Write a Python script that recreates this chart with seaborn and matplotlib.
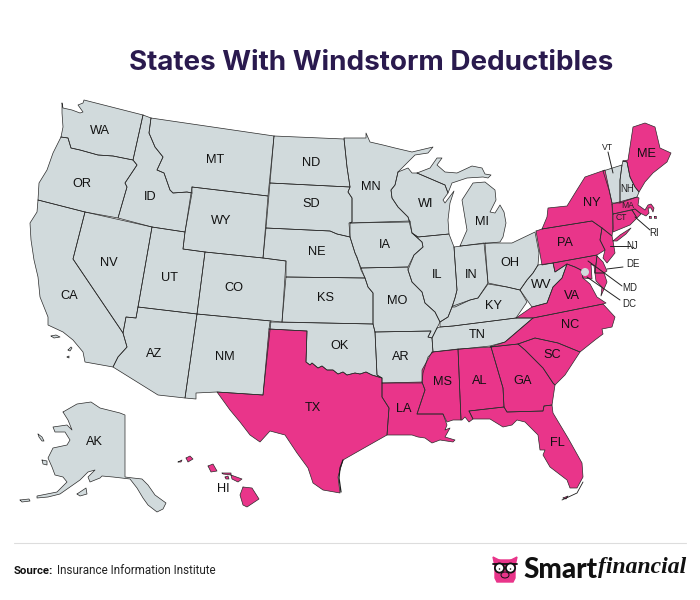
""" States with windstorm deductibles map """
import numpy as np
import pandas
import seaborn as sns
from matplotlib import pyplot as plt
from matplotlib.patches import Circle, Ellipse

# Shared jagged border, Texas / Oklahoma, west to east
RED_RIVER = [(306,362),(310,365),(312,363),(318,368),(322,366),(327,370),(333,370),(338,374),(343,372),(347,375),(355,373),(360,374),(366,372),(372,375),(382,378)]

# State outlines, picture coordinates
WA = [(62,103),(63,108),(72,110),(80,113),(83,112),(78,105),(83,103),(84,100),(143,115),(133,160),(113,156),(98,155),(80,150),(71,148),(68,138),(61,137),(63,127),(62,113)]
OR = [(61,137),(68,138),(71,148),(80,150),(98,155),(113,156),(133,160),(137,165),(125,183),(127,187),(118,218),(85,212),(38,200),(39,183),(47,170),(53,153)]
CA = [(38,200),(85,212),(73,259),(123,333),(127,347),(118,357),(113,367),(85,362),(83,352),(73,340),(63,332),(48,325),(48,317),(40,297),(38,277),(34,260),(31,240),(30,223),(37,212)]
NV = [(85,212),(152,227),(138,307),(136,318),(126,317),(123,333),(73,259)]
ID = [(143,115),(151,118),(149,133),(155,147),(163,157),(157,170),(164,173),(170,190),(173,193),(187,192),(192,193),(185,232),(152,227),(118,218),(127,187),(125,183),(137,165),(133,160)]
MT = [(151,118),(274,136),(268,196),(192,187),(192,193),(187,192),(173,193),(170,190),(164,173),(157,170),(163,157),(155,147),(149,133)]
WY = [(192,187),(268,196),(263,258),(205,252),(183,249),(185,232)]
UT = [(152,227),(185,232),(183,249),(205,252),(197,314),(138,307)]
CO = [(205,252),(263,258),(286,261),(282,322),(197,314)]
AZ = [(138,307),(197,314),(185,398),(158,395),(113,367),(118,357),(127,347),(123,333),(126,317),(136,318)]
NM = [(197,314),(271,321),(263,395),(217,392),(196,393),(196,399),(185,398)]
TX = [(269,329),(307,331)] + RED_RIVER + [(382,397),(389,408),(387,435),(357,452),(343,460),(338,477),(340,493),(323,490),(313,483),(308,468),(297,453),(285,435),(270,431),(260,442),(250,435),(240,422),(230,410),(217,392),(263,395)]
OK = [(270,322),(373,324),(375,332),(377,375)] + RED_RIVER[::-1] + [(307,331),(269,329)]
KS = [(286,277),(365,278),(368,287),(373,293),(373,324),(282,322)]
NE = [(266,228),(330,231),(337,234),(350,237),(355,253),(357,257),(361,270),(365,278),(286,277),(286,261),(263,258)]
SD = [(270,183),(350,187),(348,192),(352,198),(352,222),(349,223),(350,237),(337,234),(330,231),(266,228)]
ND = [(274,136),(344,139),(347,167),(350,187),(270,183)]
MN = [(344,138),(366,138),(366,133),(370,142),(383,145),(395,148),(412,152),(433,147),(428,153),(415,155),(407,163),(398,172),(395,185),(391,190),(392,198),(398,207),(408,217),(410,222),(350,223),(352,222),(352,198),(348,192),(350,187),(347,167)]
IA = [(350,223),(410,221),(412,233),(422,242),(423,247),(414,255),(408,267),(361,268),(355,253),(350,237)]
WI = [(398,172),(408,168),(412,173),(417,173),(445,185),(448,193),(443,200),(445,203),(454,191),(450,203),(448,220),(449,234),(418,237),(412,233),(408,217),(398,207),(392,198),(391,190),(395,185)]
IL = [(418,237),(449,234),(454,247),(457,290),(455,298),(452,307),(448,317),(440,322),(435,312),(425,303),(422,292),(412,282),(408,270),(414,255),(423,247),(422,242),(412,233)]
MO = [(361,268),(408,267),(408,270),(412,282),(422,292),(425,303),(435,312),(440,322),(437,328),(432,338),(428,337),(431,331),(375,332),(373,324),(373,293),(368,287),(365,278)]
AR = [(375,332),(431,331),(428,337),(432,338),(433,352),(428,357),(423,373),(422,383),(382,383),(382,378),(377,375)]
LA = [(382,383),(422,382),(425,390),(417,414),(443,414),(447,425),(445,430),(450,428),(445,437),(455,440),(453,442),(440,440),(432,443),(425,438),(418,437),(412,435),(387,435),(389,408),(382,397)]
MS = [(432,352),(458,349),(461,420),(453,420),(447,422),(443,414),(417,414),(425,390),(422,382),(422,370)]
AL = [(458,349),(491,347),(503,388),(504,407),(469,411),(473,419),(469,422),(465,417),(462,420),(461,420)]
GA = [(491,347),(518,344),(525,350),(543,368),(553,383),(555,385),(552,405),(544,406),(543,411),(507,412),(504,407),(503,388)]
FL = [(469,411),(504,407),(507,412),(543,411),(544,406),(552,405),(553,413),(568,438),(582,463),(583,477),(577,488),(570,488),(567,480),(550,467),(543,455),(545,450),(540,450),(538,435),(525,422),(517,420),(512,425),(503,427),(490,419),(473,419)]
SC = [(518,344),(535,338),(558,343),(580,352),(565,375),(555,385),(553,383),(543,368),(525,350)]
NC = [(490,347),(505,342),(533,318),(603,304),(615,317),(612,327),(602,329),(603,334),(595,340),(580,352),(558,343),(535,338),(518,344)]
VA = [(516,318),(532,307),(547,303),(553,287),(562,278),(567,264),(575,267),(581,270),(583,278),(590,284),(597,297),(606,303),(603,304),(533,318)]
WV = [(538,265),(553,263),(555,272),(567,264),(562,278),(553,287),(547,303),(532,307),(520,290),(527,280),(533,273)]
KY = [(453,306),(470,300),(478,298),(488,284),(507,287),(520,290),(527,302),(516,318),(453,326),(440,327),(440,322),(448,317),(452,307)]
TN = [(437,328),(440,327),(453,326),(516,318),(533,318),(505,342),(490,346),(433,352),(432,338)]
IN = [(454,247),(484,243),(488,283),(478,298),(470,300),(455,307),(452,307),(455,298),(457,290)]
OH = [(485,243),(512,243),(535,232),(539,253),(538,265),(533,273),(527,280),(520,290),(507,287),(488,283)]
PA = [(536,231),(542,229),(592,221),(602,228),(600,240),(605,250),(597,255),(542,265)]
NY = [(542,229),(547,217),(548,208),(567,206),(575,193),(585,177),(605,170),(612,203),(613,228),(612,236),(602,228),(592,221)]
LI = [(613,241),(620,235),(631,228),(626,234),(617,241)]
NJ = [(602,228),(612,236),(613,241),(615,253),(607,263),(603,258),(605,250),(600,240)]
DE = [(597,256),(603,262),(607,271),(604,273),(595,273)]
MD = [(553,263),(597,255),(595,273),(604,273),(607,282),(601,296),(602,287),(596,281),(594,266),(591,264),(592,279),(583,278),(581,270),(575,267),(567,264),(555,272)]
VT = [(603,171),(622,165),(620,180),(620,203),(612,203),(609,190)]
NH = [(623,161),(627,162),(630,177),(635,187),(639,192),(637,197),(620,203),(620,180),(622,165)]
ME = [(623,161),(628,160),(633,127),(645,123),(655,127),(660,148),(671,153),(667,162),(653,173),(645,182),(639,192),(635,187),(630,177),(627,162)]
MA = [(612,204),(637,197),(639,198),(638,205),(645,210),(648,205),(651,204),(654,208),(653,212),(651,208),(648,208),(649,213),(646,216),(640,213),(635,209),(613,214)]
CT = [(613,214),(632,210),(637,218),(630,225),(613,232)]
RI = [(632,210),(635,209),(641,214),(637,218)]
MI_UP = [(417,173),(430,168),(437,158),(442,158),(437,165),(445,172),(457,173),(472,166),(482,168),(485,174),(491,175),(488,178),(483,177),(467,178),(452,183),(448,193),(445,185)]
MI_LP = [(460,246),(467,230),(462,200),(473,183),(485,182),(495,190),(496,200),(490,212),(495,213),(500,205),(504,212),(506,223),(503,237),(500,242)]
AK = [(63,412),(77,404),(91,402),(100,408),(120,413),(125,415),(125,477),(133,478),(142,479),(148,485),(155,495),(166,503),(163,509),(157,512),(148,505),(143,498),(137,488),(130,479),(113,477),(102,476),(100,478),(90,482),(88,477),(95,470),(88,472),(80,480),(70,487),(60,494),(48,497),(37,498),(37,496),(57,492),(67,482),(63,477),(55,475),(52,467),(48,458),(53,448),(67,445),(70,440),(65,432),(55,432),(53,427),(67,425),(72,430),(68,420)]
AK_KODIAK = [(77,494),(86,488),(87,494),(80,496)]
AK_NUNIVAK = [(42,460),(47,461),(47,465),(43,464)]
AK_STLAWRENCE = [(38,434),(42,437),(44,441),(42,441),(39,437)]
AK_ALEUT = [(20,500),(29,499),(30,501),(22,502)]
CA_ISLE1 = [(51,336),(56,335),(60,337),(54,338)]
CA_ISLE2 = [(68,350),(71,347),(72,348),(70,351)]
CA_ISLE3 = [(67,357),(69,356),(69,358)]
HI_KAUAI = [(186,458),(190,456),(193,459),(188,462)]
HI_NIIHAU = [(178,462),(182,460),(181,462)]
HI_OAHU = [(208,466),(213,464),(217,471),(211,472)]
HI_MOLOKAI = [(222,473),(231,473),(231,475),(223,474)]
HI_LANAI = [(225,477),(228,476),(229,479),(226,479)]
HI_MAUI = [(231,475),(242,479),(238,482),(232,479)]
HI_BIG = [(243,487),(252,488),(259,499),(247,507),(243,505),(240,495)]
FL_KEYS = [(563,498),(568,496),(566,499)]
MA_VINEYARD = [(649,216),(651,216),(651,218),(649,218)]
MA_NANTUCKET = [(654,216),(656,216),(656,218),(654,218)]

LAND_GRAY = [WA,OR,CA,NV,ID,MT,WY,UT,CO,AZ,NM,OK,KS,NE,SD,ND,MN,IA,WI,IL,MO,AR,WV,KY,TN,IN,OH,VT,NH,MI_UP,MI_LP,AK,AK_KODIAK,AK_NUNIVAK,AK_STLAWRENCE,AK_ALEUT,CA_ISLE1,CA_ISLE2,CA_ISLE3]
LAND_PINK = [TX,LA,MS,AL,GA,FL,SC,NC,VA,PA,NY,LI,NJ,DE,MD,ME,MA,CT,RI,HI_KAUAI,HI_NIIHAU,HI_OAHU,HI_MOLOKAI,HI_LANAI,HI_MAUI,HI_BIG,FL_KEYS,MA_VINEYARD,MA_NANTUCKET]

# Labels
big_labels = ['WA','OR','CA','NV','ID','MT','WY','UT','CO','AZ','NM','TX','OK','KS','NE','SD','ND','MN','IA','WI','IL','MO','AR','LA','MS','AL','GA','FL','SC','NC','VA','WV','KY','TN','IN','OH','PA','NY','ME','MI','AK','HI']
big_x = [100,82,69,109,150,215,221,169,234,154,225,313,340,325,317,311,311,371,385,426,437,397,401,404,443,480,523,557,552,570,572,541,493,477,471,510,565,592,646,482,94,223]
big_y = [131,184,296,263,197,160,221,278,288,354,357,408,346,298,252,204,163,187,245,204,275,301,357,409,382,381,381,443,355,325,296,285,306,335,275,263,243,203,154,222,442,489]
small_labels = ['VT','NH','MA','CT','RI','NJ','DE','MD','DC']
small_x = [607,627,628,621,654,632,633,630,629]
small_y = [147,189,206,218,233,246,264,288,304]
small_size = [6.2,7,6.2,6.2,7,7,7,7,7]

# Leader lines
leader_x = [(608,613),(635,650),(610,630),(607,623),(588,622),(587,620)]
leader_y = [(152,173),(217,230),(246,246),(269,267),(261,286),(277,300)]

# DC dot
dc_xy = (585,272)

# Thin extra outlines: Florida keys arc, south Texas barrier islands
keys_x = [562,577,583]
keys_y = [500,493,482]
padre_x = [343,340,339,341]
padre_y = [460,468,478,492]

sns.set_theme(style='white')
plt.rcParams['font.family'] = ['Liberation Sans', 'DejaVu Sans']

gray, pink = '#d1dadc', '#e9358a'

fig = plt.figure(figsize=(7,6), dpi=100)
ax = fig.add_axes([0,0,1,1])

rows = []
piece = 0
for land, color in [(LAND_GRAY, gray), (LAND_PINK, pink)]:
    for poly in land:
        ax.fill(*zip(*poly), facecolor=color, edgecolor='none', zorder=1)
        for order, (xx, yy) in enumerate(poly + poly[:1]):
            rows.append(dict(piece=piece, order=order, x=xx, y=yy))
        piece += 1
df = pandas.DataFrame(rows)

# Borders
sns.lineplot(data=df, x='x', y='y', units='piece', estimator=None, sort=False,
             color='#2a2a2a', lw=0.5, ax=ax, legend=False, zorder=2)

# Leaders
for lx, ly in zip(leader_x, leader_y):
    ax.plot(lx, ly, color='#222222', lw=0.7, zorder=3)

ax.add_patch(Circle(dc_xy, 4, facecolor=gray, edgecolor='none', zorder=4))

ax.plot(keys_x, keys_y, color='#1c1c1c', lw=0.6, zorder=2)
ax.plot(padre_x, padre_y, color='#1c1c1c', lw=0.9, zorder=2)

for lab, xx, yy in zip(big_labels, big_x, big_y):
    ax.text(xx, yy, lab, fontsize=9.2, color='#111111', ha='center', va='center', zorder=5)
for lab, xx, yy, fs in zip(small_labels, small_x, small_y, small_size):
    ax.text(xx, yy, lab, fontsize=fs, color='#222222', ha='center', va='center', zorder=5)

# Title
ax.text(371, 60, 'States With Windstorm Deductibles', fontsize=20, fontweight='bold',
        family=['Inter', 'DejaVu Sans'], color='#2a1a4e', ha='center', va='center_baseline')

# Footer
ax.plot([14,686], [543,543], color='#dddddd', lw=0.8)
ax.text(14, 571, 'Source:', fontsize=8.2, fontweight='bold', family=['Roboto', 'DejaVu Sans'],
        color='#111111', va='center')
ax.text(57, 571, 'Insurance Information Institute', fontsize=8.4, family=['Roboto', 'DejaVu Sans'],
        color='#222222', va='center')

# Logo
ax.fill([495,515,515,513,497,495], [560,560,578,582,582,578], color=pink, zorder=3)
ax.fill([493,501,495], [557,561,566], color=pink, zorder=3)
ax.fill([517,509,515], [557,561,566], color=pink, zorder=3)
ax.plot([493,517], [564,564], color='#111111', lw=1.3, zorder=4)
for cx in [499.5,510.5]:
    ax.add_patch(Circle((cx,568), 4.6, facecolor='white', edgecolor='#111111', lw=1.3, zorder=4))
    ax.add_patch(Circle((cx,569), 1.5, facecolor='#111111', zorder=5))
ax.add_patch(Ellipse((505,575), 8, 6, facecolor=pink, edgecolor='#111111', lw=0.7, zorder=5))
ax.text(523, 569.5, 'Smart', fontsize=20, fontweight='black', family=['Lato', 'DejaVu Sans'],
        color='#111111', va='center')
ax.text(598, 568, 'financial', fontsize=17, style='italic', fontweight='bold',
        family=['Liberation Serif', 'DejaVu Serif'], color='#111111', va='center')

ax.set_xlim(0,700)
ax.set_ylim(600,0)
ax.axis('off')

plt.savefig('out.png', dpi=100)
print("Saved: out.png")
